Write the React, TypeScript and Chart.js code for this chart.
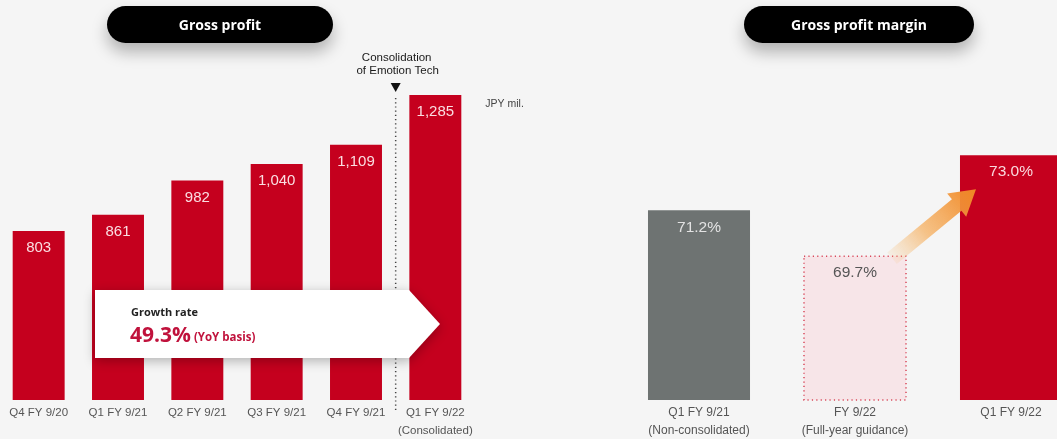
import React, { useEffect, useRef } from "react";
import { Chart, registerables } from "chart.js";

Chart.register(...registerables);

// ---------- data ----------
const gpCategories: string[][] = [
  ["Q4 FY 9/20"],
  ["Q1 FY 9/21"],
  ["Q2 FY 9/21"],
  ["Q3 FY 9/21"],
  ["Q4 FY 9/21"],
  ["Q1 FY 9/22", "(Consolidated)"],
];
const gpValues: number[] = [803, 861, 982, 1040, 1109, 1285];
const gpValueLabels: string[] = ["803", "861", "982", "1,040", "1,109", "1,285"];

const marginCategories: string[][] = [
  ["Q1 FY 9/21", "(Non-consolidated)"],
  ["FY 9/22", "(Full-year guidance)"],
  ["Q1 FY 9/22"],
];
const marginValues: number[] = [71.2, 69.7, 73.0];
const marginValueLabels: string[] = ["71.2%", "69.7%", "73.0%"];

const growthTitle = "Growth rate";
const growthRate = "49.3%";
const growthBasis = "(YoY basis)";
const consolidationNote = ["Consolidation", "of Emotion Tech"];
const unitLabel = "JPY mil.";

const RED = "#c5001e";
const SANS = '"Liberation Sans", Arial, sans-serif';
const BOLD = '"Open Sans", "Lato", sans-serif';

function drawCategoryLabels(ctx: CanvasRenderingContext2D, chart: any, cats: string[][], size: number) {
  const meta = chart.getDatasetMeta(0);
  const bottom = chart.chartArea.bottom;
  ctx.font = `${size}px ${SANS}`;
  ctx.fillStyle = "#555";
  ctx.textAlign = "center";
  ctx.textBaseline = "middle";
  cats.forEach((lines, i) => {
    lines.forEach((t, j) => ctx.fillText(t, meta.data[i].x, bottom + 13 + j * 18));
  });
}

function GrossProfitChart() {
  const ref = useRef<HTMLCanvasElement>(null);
  useEffect(() => {
    const plugin = {
      id: "gpDecor",
      afterDatasetsDraw(chart: any) {
        const ctx: CanvasRenderingContext2D = chart.ctx;
        const meta = chart.getDatasetMeta(0);
        const area = chart.chartArea;
        ctx.save();
        // value labels
        ctx.font = `15px ${SANS}`;
        ctx.fillStyle = "rgba(255,240,242,0.92)";
        ctx.textAlign = "center";
        ctx.textBaseline = "middle";
        meta.data.forEach((el: any, i: number) => ctx.fillText(gpValueLabels[i], el.x, el.y + 17));
        // category labels
        drawCategoryLabels(ctx, chart, gpCategories, 11.5);
        // consolidation divider
        const x = (meta.data[4].x + meta.data[5].x) / 2;
        ctx.strokeStyle = "#444";
        ctx.lineWidth = 1.5;
        ctx.setLineDash([1.2, 3]);
        ctx.beginPath();
        ctx.moveTo(x, 98);
        ctx.lineTo(x, area.bottom + 10);
        ctx.stroke();
        ctx.setLineDash([]);
        ctx.fillStyle = "#111";
        ctx.beginPath();
        ctx.moveTo(x - 5, 83);
        ctx.lineTo(x + 5, 83);
        ctx.lineTo(x, 92);
        ctx.closePath();
        ctx.fill();
        ctx.font = `11.5px ${SANS}`;
        ctx.fillStyle = "#1a1a1a";
        ctx.fillText(consolidationNote[0], x + 1, 58);
        ctx.fillText(consolidationNote[1], x + 2, 71);
        // unit
        ctx.textAlign = "left";
        ctx.font = `10.5px ${SANS}`;
        ctx.fillStyle = "#444";
        ctx.fillText(unitLabel, meta.data[5].x + 50, 104);
        // growth callout
        ctx.save();
        ctx.shadowColor = "rgba(0,0,0,0.28)";
        ctx.shadowBlur = 12;
        ctx.shadowOffsetY = 3;
        ctx.fillStyle = "#ffffff";
        ctx.beginPath();
        ctx.moveTo(96, 290);
        ctx.lineTo(410, 290);
        ctx.lineTo(441, 324);
        ctx.lineTo(410, 358);
        ctx.lineTo(96, 358);
        ctx.closePath();
        ctx.fill();
        ctx.restore();
        ctx.textAlign = "left";
        ctx.textBaseline = "alphabetic";
        ctx.fillStyle = "#222";
        ctx.font = `bold 11px ${BOLD}`;
        ctx.fillText(growthTitle, 132, 316);
        ctx.fillStyle = "#c0123c";
        ctx.font = `bold 21px ${BOLD}`;
        ctx.fillText(growthRate, 131, 342);
        const w = ctx.measureText(growthRate).width;
        ctx.font = `bold 11.5px ${BOLD}`;
        ctx.fillText(growthBasis, 131 + w + 3, 341);
        ctx.restore();
      },
    };
    const chart = new Chart(ref.current!, {
      type: "bar",
      data: {
        labels: gpCategories.map((c) => c.join(" ")),
        datasets: [
          {
            data: gpValues,
            backgroundColor: RED,
            borderWidth: 0,
            barPercentage: 0.655,
            categoryPercentage: 1,
          },
        ],
      },
      options: {
        animation: false,
        responsive: false,
        devicePixelRatio: 1,
        layout: { padding: { left: 0, right: 65, top: 37, bottom: 39 } },
        plugins: { legend: { display: false }, tooltip: { enabled: false } },
        scales: {
          x: { display: false },
          y: { display: false, min: 205, max: 1490 },
        },
      },
      plugins: [plugin],
    });
    return () => chart.destroy();
  }, []);
  return (
    <canvas
      ref={ref}
      width={541}
      height={439}
      style={{ position: "absolute", left: -1, top: 0, width: 541, height: 439 }}
    />
  );
}

function MarginChart() {
  const ref = useRef<HTMLCanvasElement>(null);
  useEffect(() => {
    const plugin = {
      id: "marginDecor",
      afterDatasetsDraw(chart: any) {
        const ctx: CanvasRenderingContext2D = chart.ctx;
        const meta = chart.getDatasetMeta(0);
        const area = chart.chartArea;
        ctx.save();
        // dotted border for guidance bar
        const g: any = meta.data[1];
        const r: any = meta.data[2];
        ctx.strokeStyle = "#d8485a";
        ctx.lineWidth = 1.5;
        ctx.setLineDash([1.2, 3.2]);
        ctx.strokeRect(g.x - g.width / 2, g.y, g.width, area.bottom - g.y);
        ctx.setLineDash([]);
        // orange arrow
        const sx = g.x + g.width / 2 - 14;
        const sy = g.y + 2;
        const ex = r.x - r.width / 2 + 16;
        const ey = r.y + 34;
        const ang = Math.atan2(ey - sy, ex - sx);
        const len = Math.hypot(ex - sx, ey - sy);
        ctx.save();
        ctx.translate(sx, sy);
        ctx.rotate(ang);
        const grad = ctx.createLinearGradient(0, 0, len, 0);
        grad.addColorStop(0, "rgba(246,195,130,0.15)");
        grad.addColorStop(0.4, "rgba(245,175,95,0.75)");
        grad.addColorStop(1, "rgba(240,135,35,1)");
        ctx.fillStyle = grad;
        const hl = 25;
        ctx.beginPath();
        ctx.moveTo(0, -7.5);
        ctx.lineTo(len - hl, -7.5);
        ctx.lineTo(len - hl, -15);
        ctx.lineTo(len, 0);
        ctx.lineTo(len - hl, 15);
        ctx.lineTo(len - hl, 7.5);
        ctx.lineTo(0, 7.5);
        ctx.closePath();
        ctx.fill();
        ctx.restore();
        // value labels
        ctx.font = `15.5px ${SANS}`;
        ctx.textAlign = "center";
        ctx.textBaseline = "middle";
        const colors = ["rgba(240,240,240,0.9)", "#555", "rgba(255,240,242,0.9)"];
        meta.data.forEach((el: any, i: number) => {
          ctx.fillStyle = colors[i];
          ctx.fillText(marginValueLabels[i], el.x, el.y + 17);
        });
        drawCategoryLabels(ctx, chart, marginCategories, 12);
        ctx.restore();
      },
    };
    const chart = new Chart(ref.current!, {
      type: "bar",
      data: {
        labels: marginCategories.map((c) => c.join(" ")),
        datasets: [
          {
            data: marginValues,
            backgroundColor: ["#6e7372", "#f7e5e8", RED],
            borderWidth: 0,
            barPercentage: 0.654,
            categoryPercentage: 1,
          },
        ],
      },
      options: {
        animation: false,
        responsive: false,
        devicePixelRatio: 1,
        layout: { padding: { left: 81, right: 11, top: 94, bottom: 39 } },
        plugins: { legend: { display: false }, tooltip: { enabled: false } },
        scales: {
          x: { display: false },
          y: { display: false, min: 65, max: 75 },
        },
      },
      plugins: [plugin],
    });
    return () => chart.destroy();
  }, []);
  return (
    <canvas
      ref={ref}
      width={560}
      height={439}
      style={{ position: "absolute", left: 540, top: 0, width: 560, height: 439 }}
    />
  );
}

function Pill({ left, width, text }: { left: number; width: number; text: string }) {
  return (
    <div
      style={{
        position: "absolute",
        left,
        top: 6,
        width,
        height: 37,
        borderRadius: 19,
        background: "#000",
        color: "#fff",
        fontFamily: BOLD,
        fontWeight: 700,
        fontSize: 14,
        display: "flex",
        alignItems: "center",
        justifyContent: "center",
        boxShadow: "0 9px 16px rgba(0,0,0,0.28)",
        zIndex: 2,
      }}
    >
      {text}
    </div>
  );
}

export default function App() {
  return (
    <div
      style={{
        position: "fixed",
        left: 0,
        top: 0,
        width: 1057,
        height: 439,
        overflow: "hidden",
        background: "#f5f5f5",
      }}
    >
      <GrossProfitChart />
      <MarginChart />
      <Pill left={107} width={226} text="Gross profit" />
      <Pill left={744} width={230} text="Gross profit margin" />
    </div>
  );
}
